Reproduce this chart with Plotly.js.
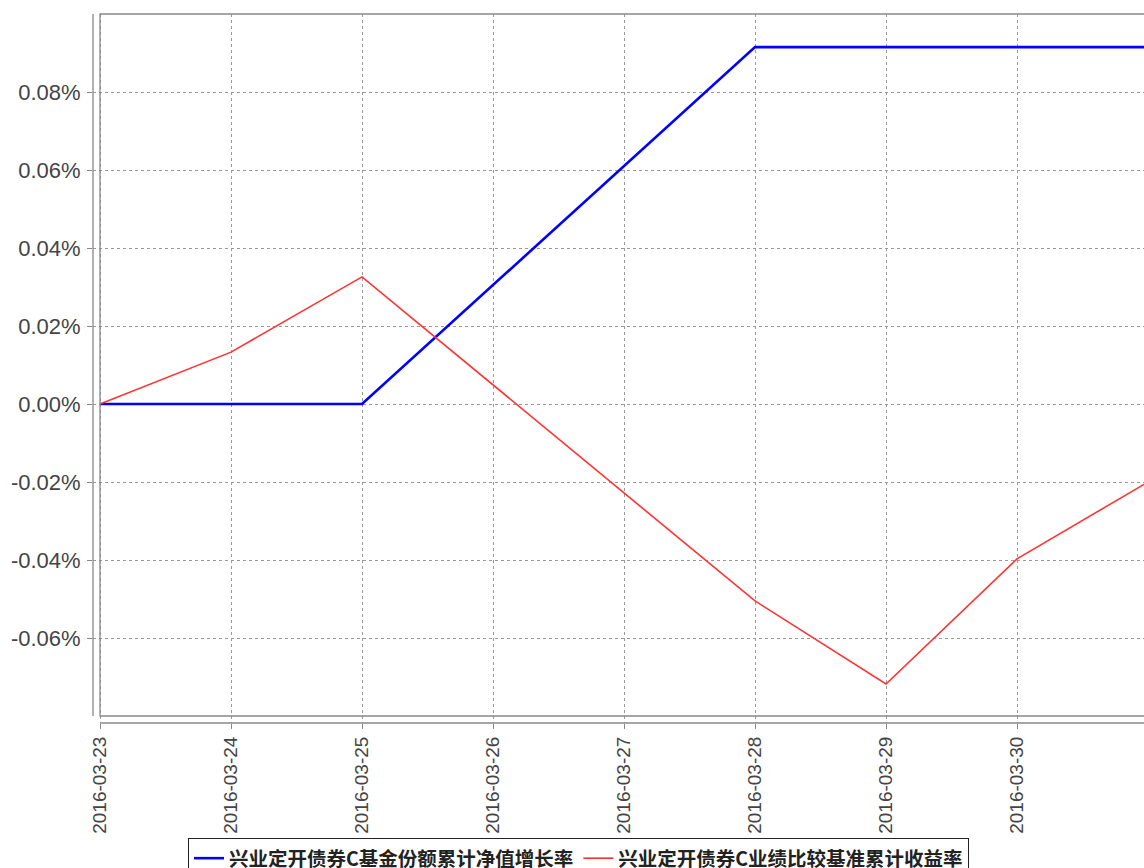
<!DOCTYPE html>
<html>
<head>
<meta charset="utf-8">
<script src="https://cdn.plot.ly/plotly-3.0.1.min.js"></script>
<style>html,body{margin:0;padding:0;background:#fff;}#chart{width:1144px;height:868px;}</style>
</head>
<body>
<div id="chart"></div>
<script>
// Data (values in %)
const dates = ['2016-03-23','2016-03-24','2016-03-25','2016-03-28','2016-03-29','2016-03-30','2016-03-31'];
const fundNav = [0, 0, 0, 0.0915, 0.0915, 0.0915, 0.0915];
const benchmark = [0, 0.0133, 0.0326, -0.0505, -0.0718, -0.0397, -0.0200];
const seriesNames = ['兴业定开债券C基金份额累计净值增长率', '兴业定开债券C业绩比较基准累计收益率'];
const xTickVals = ['2016-03-23','2016-03-24','2016-03-25','2016-03-26','2016-03-27','2016-03-28','2016-03-29','2016-03-30'];
const yTickVals = [-0.06, -0.04, -0.02, 0, 0.02, 0.04, 0.06, 0.08];
const yTickText = ['-0.06%', '-0.04%', '-0.02%', '0.00%', '0.02%', '0.04%', '0.06%', '0.08%'];

const W = 1144, H = 868;
const mL = 93, mR = 0, mT = 14, mB = 145;
const pw = W - mL - mR, ph = H - mT - mB;
const gap = 7;            // offset between axis lines and plot outline
const pxPerDay = 131;
const day = 86400000;
const t0 = Date.UTC(2016, 2, 23);
function iso(ms){ return new Date(ms).toISOString().replace('T',' ').replace('Z',''); }
const xr = [iso(t0 - gap/pxPerDay*day), iso(t0 + (pw-gap)/pxPerDay*day)];
const pxPerUnit = 78/0.02;
const yTop = 0.1;
const yr = [yTop - ph/pxPerUnit, yTop];

const gx = gap/pw, gy = gap/ph;
const axisCol = '#888888';

const traces = [
  {x: dates, y: fundNav, name: seriesNames[0], type: 'scatter', mode: 'lines',
   line: {color: '#0000ff', width: 2.6}},
  {x: dates, y: benchmark, name: seriesNames[1], type: 'scatter', mode: 'lines',
   line: {color: '#ff3333', width: 1.6}}
];

const layout = {
  width: W, height: H,
  margin: {l: mL, r: mR, t: mT, b: mB, pad: 0, autoexpand: false},
  paper_bgcolor: '#fff', plot_bgcolor: '#fff',
  showlegend: true,
  font: {family: 'Liberation Sans, Arial, sans-serif', color: '#444'},
  xaxis: {
    type: 'date', range: xr, tickvals: xTickVals, tickformat: '%Y-%m-%d',
    tickangle: -90, tickfont: {size: 19, color: '#444'}, ticklabelstandoff: 0,
    ticks: 'outside', ticklen: 5, tickcolor: axisCol,
    showgrid: true, gridcolor: '#999', griddash: '3px,3px', gridwidth: 1,
    showline: false, zeroline: false, fixedrange: true, automargin: false
  },
  yaxis: {
    range: yr, tickvals: yTickVals, ticktext: yTickText,
    tickfont: {size: 22, color: '#444'}, ticklabelstandoff: 2,
    ticks: 'outside', ticklen: 5, tickcolor: axisCol,
    showgrid: true, gridcolor: '#999', griddash: '3px,3px', gridwidth: 1,
    showline: false, zeroline: false, fixedrange: true, automargin: false
  },
  shapes: [
    {type: 'rect', xref: 'paper', yref: 'paper', x0: 0, x1: gx, y0: 0, y1: 1,
     fillcolor: '#fff', line: {width: 0}, layer: 'between'},
    {type: 'rect', xref: 'paper', yref: 'paper', x0: 0, x1: 1, y0: 0, y1: gy,
     fillcolor: '#fff', line: {width: 0}, layer: 'between'},
    {type: 'rect', xref: 'paper', yref: 'paper', x0: gx, x1: 1.01, y0: gy, y1: 1,
     line: {color: axisCol, width: 1.3}, layer: 'above'},
    {type: 'line', xref: 'paper', yref: 'paper', x0: 0, x1: 0, y0: gy, y1: 1,
     line: {color: axisCol, width: 1.3}, layer: 'above'},
    {type: 'line', xref: 'paper', yref: 'paper', x0: gx, x1: 1, y0: 0, y1: 0,
     line: {color: axisCol, width: 1.3}, layer: 'above'}
  ],
  legend: {
    orientation: 'h', x: (188 - mL)/pw, xanchor: 'left', y: -(838 - (H - mB))/ph, yanchor: 'top',
    bordercolor: '#222', borderwidth: 1, bgcolor: 'rgba(255,255,255,0)',
    font: {family: 'Noto Sans CJK SC', size: 19.5, color: '#222', weight: 'bold'},
    itemwidth: 30, tracegroupgap: 0
  }
};

Plotly.newPlot('chart', traces, layout, {displayModeBar: false, staticPlot: true});
</script>
</body>
</html>
